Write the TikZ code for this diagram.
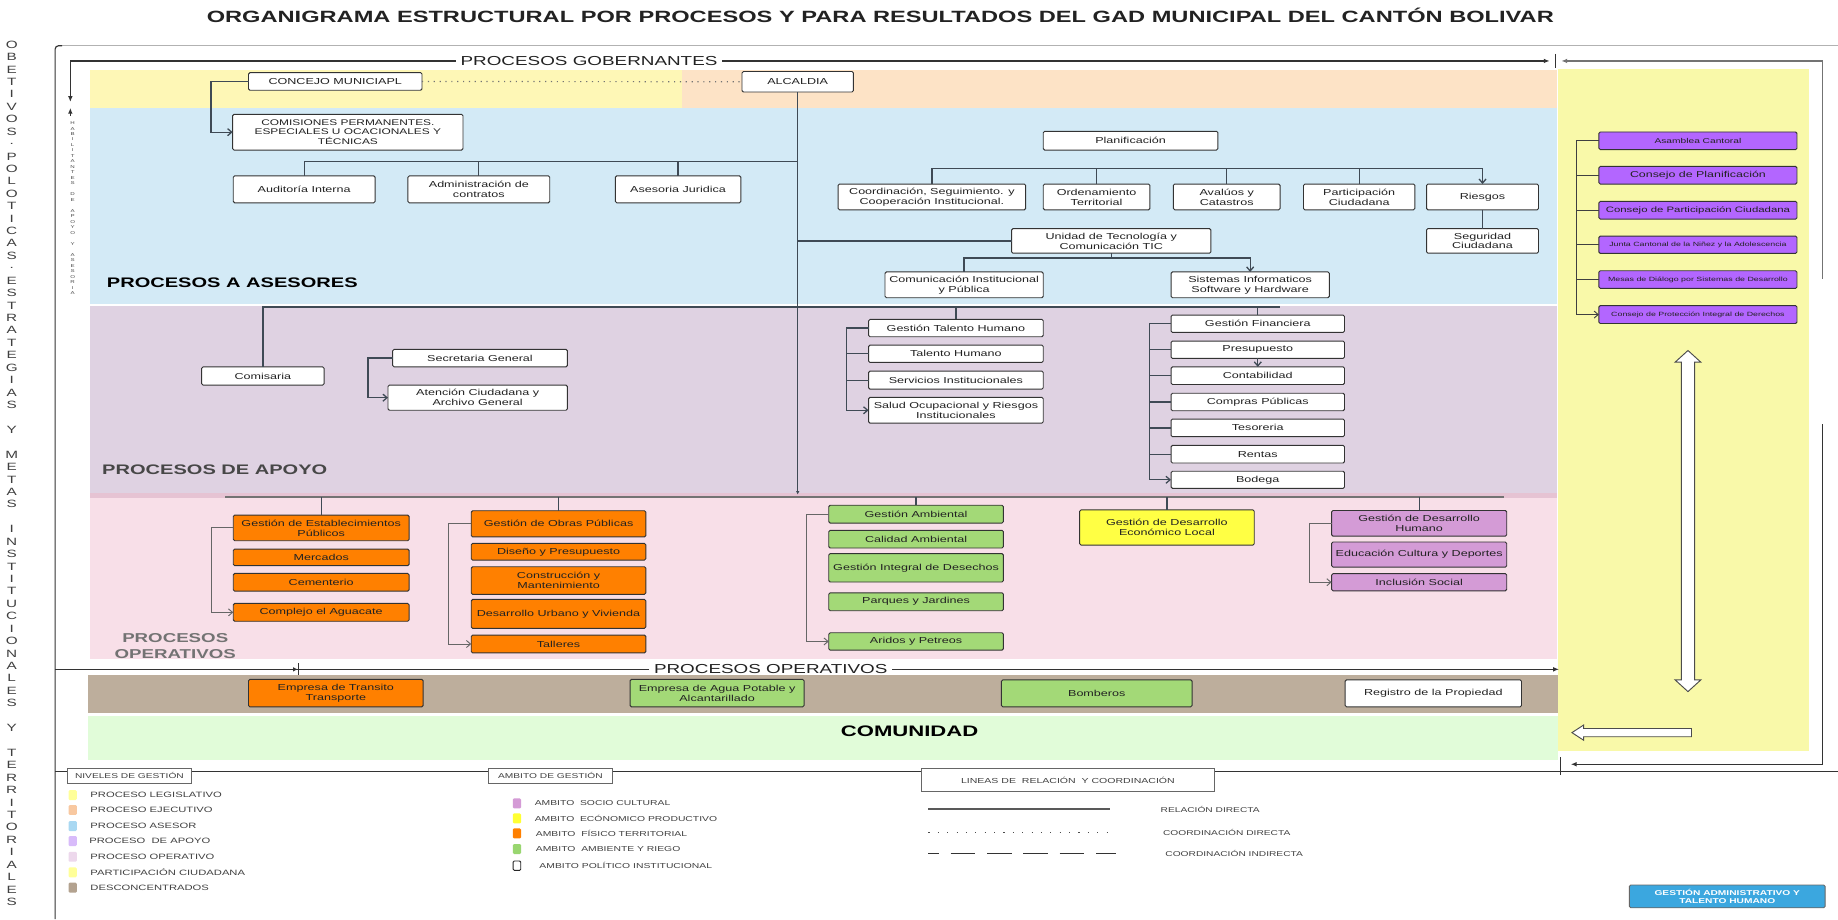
\documentclass[tikz,border=0pt]{standalone}
\usepackage{fontspec}
\setmainfont{Liberation Sans}[FakeStretch=1.45]
\usetikzlibrary{arrows.meta}
\definecolor{bgYel}{HTML}{FEF7B6}
\definecolor{bgPeach}{HTML}{FDE3C6}
\definecolor{bgBlue}{HTML}{D3EAF6}
\definecolor{bgLilac}{HTML}{DFD2E2}
\definecolor{bgPink}{HTML}{F8DFE8}
\definecolor{bgPinkLine}{HTML}{E6C3D3}
\definecolor{bgBrown}{HTML}{BDAE9C}
\definecolor{bgGreen}{HTML}{E1FCD9}
\definecolor{bgRight}{HTML}{F9F9A9}
\definecolor{cOrange}{HTML}{FF8000}
\definecolor{cGreen}{HTML}{A3D977}
\definecolor{cYellow}{HTML}{FFFF44}
\definecolor{cOrchid}{HTML}{D49BD6}
\definecolor{cPurple}{HTML}{B366FF}
\definecolor{cBlue}{HTML}{3BA7DF}
\definecolor{lineC}{HTML}{3F4A55}
\definecolor{txtC}{HTML}{222222}
\definecolor{lgYel}{HTML}{FFFF99}
\definecolor{lgPeach}{HTML}{F8C8A0}
\definecolor{lgBlue}{HTML}{A9D8F2}
\definecolor{lgLav}{HTML}{D8BBFA}
\definecolor{lgPink}{HTML}{EDD8EC}
\definecolor{lgBrown}{HTML}{B3A28F}
\definecolor{lgYel2}{HTML}{FFFF33}
\definecolor{lgGreen}{HTML}{99D670}

\newcommand\obox[7]{\node[#6, minimum width={#4-#2}, minimum height={#5-#3}] (#1) at ({(#2+#4)/2},{(#3+#5)/2}) {#7};}

\tikzset{
 wb/.style={draw=black!80, fill=white, rounded corners=1.2pt, line width=0.8pt, inner sep=0.5pt, outer sep=0pt, align=center, text=txtC, font=\fontsize{7.4}{8.5}\selectfont},
 ob/.style={wb, fill=cOrange},
 gb/.style={wb, fill=cGreen},
 yb/.style={wb, fill=cYellow},
 pb/.style={wb, fill=cOrchid},
 vb/.style={wb, fill=cPurple},
 conn/.style={draw=lineC, line width=1.1pt},
 arr/.style={-{Straight Barb[length=3.5pt,width=6pt]}},
 frm/.style={draw=black!80, line width=1pt},
 fra/.style={-{Latex[length=5pt,width=4pt]}},
 sect/.style={font=\fontsize{11.1}{12}\selectfont, inner sep=4pt, text=txtC},
 bigarrow/.style={fill=white, draw=black!70, line width=0.8pt},
 lgh/.style={draw=black!60, fill=white, line width=0.7pt, inner sep=0pt, outer sep=0pt, font=\fontsize{6}{7}\selectfont, text=black!75},
 lsq/.style={minimum width=7, minimum height=8.5, inner sep=0pt, rounded corners=1pt},
 legt/.style={font=\fontsize{6.6}{7}\selectfont, text=black!75, inner sep=0pt},
 legb/.style={font=\fontsize{6.1}{7}\selectfont, text=black!75, inner sep=0pt},
}

\begin{document}
\begin{tikzpicture}[x=1pt,y=-1pt]
\useasboundingbox (0,0) rectangle (1568,784);
\fill[white] (0,0) rectangle (1568,784);

% ---------- backgrounds ----------
\fill[bgYel] (77,60) rectangle (582,92.5);
\fill[bgPeach] (582,60) rectangle (1328,92.5);
\fill[bgBlue] (77,92.5) rectangle (1328,259);
\fill[bgLilac] (77,261) rectangle (1328,421);
\fill[bgPinkLine] (77,421) rectangle (1328,424.5);
\fill[bgPink] (77,424.5) rectangle (1328,562.5);
\fill[bgBrown] (75,576) rectangle (1329,608.6);
\fill[bgGreen] (75,610.5) rectangle (1329,648.4);
\fill[bgRight] (1329,59) rectangle (1543,641);

% ---------- title ----------
\node[font=\bfseries\fontsize{13.9}{15}\selectfont, text=txtC] (title) at (751,13.5) {ORGANIGRAMA ESTRUCTURAL POR PROCESOS Y PARA RESULTADOS DEL GAD MUNICIPAL DEL CANTÓN BOLIVAR};

% ---------- left vertical texts ----------
\foreach \c [count=\i] in {O,B,E,T,I,V,O,S,.,P,O,L,O,T,I,C,A,S,.,E,S,T,R,A,T,E,G,I,A,S,{},Y,{},M,E,T,A,S,{},I,N,S,T,I,T,U,C,I,O,N,A,L,E,S,{},Y,{},T,E,R,R,I,T,O,R,I,A,L,E,S}
  \node[font=\fontsize{9}{9}\selectfont, text=black!75, inner sep=0pt] (vt\i) at (10,{38+(\i-1)*10.6}) {\c};
\foreach \c [count=\i] in {H,A,B,I,L,I,T,A,N,T,E,S,{},D,E,{},A,P,O,Y,O,{},Y,{},A,S,E,S,O,R,I,A}
  \node[font=\fontsize{3.6}{4}\selectfont, text=black!70, inner sep=0pt] (hv\i) at (62,{105+(\i-1)*4.68}) {\c};

% ---------- frame ----------
\draw[black!30, line width=0.8pt] (50,39) -- (1568,39);
\draw[frm, rounded corners=3pt] (47,784) -- (47,39) -- (53,39);

\node[sect] (gob) at (502.5,52) {PROCESOS GOBERNANTES};
\coordinate (gobL) at (60,87);
\coordinate (gobR) at (1322,52);
\draw[frm, fra] (gob.west) -| (gobL);
\draw[frm, fra] (gob.east) -- (gobR);
\coordinate (tk1) at (1327,46); \coordinate (tk2) at (1327,58);
\draw[frm] (tk1) -- (tk2);
\coordinate (rtA) at (1555,238); \coordinate (rtArr) at (1332,52);
\draw[frm, fra, draw=black!55] (rtA) |- (rtArr);
\coordinate (upS) at (60,99); \coordinate (upE) at (60,92);
\draw[frm, fra] (upS) -- (upE);

\node[sect] (opt) at (657.5,571) {PROCESOS OPERATIVOS};
\coordinate (opL) at (47,571); \coordinate (opR) at (1330,571);
\draw[frm] (opt.west) -- (opL);
\draw[frm, fra] (opt.east) -- (opR);
\coordinate (mk1) at (255,566); \coordinate (mk2) at (255,576);
\coordinate (mk3) at (246,571); \coordinate (mk4) at (254,571);
\draw[frm] (mk1) -- (mk2);
\draw[frm, -{Latex[length=4pt,width=4pt]}] (mk3) -- (mk4);

\coordinate (rtB) at (1555,362); \coordinate (rtB2) at (1340,652);
\draw[frm, fra] (rtB) |- (rtB2);
\coordinate (tk3) at (1331,646); \coordinate (tk4) at (1331,661);
\draw[frm] (tk3) -- (tk4);
\coordinate (botL) at (47,658); \coordinate (botR) at (1568,658);
\draw[frm] (botL) -- (botR);

% ---------- section labels ----------
\node[font=\bfseries\fontsize{11.8}{13}\selectfont, text=black, anchor=west, inner sep=0pt] (lasesor) at (91,241) {PROCESOS A ASESORES};
\node[font=\bfseries\fontsize{11.8}{13}\selectfont, text=black!72, anchor=west, inner sep=0pt] (lapoyo) at (87,401) {PROCESOS DE APOYO};
\node[font=\bfseries\fontsize{11}{13.6}\selectfont, text=black!55, align=center, inner sep=0pt] (loper) at (149.5,551) {PROCESOS\\OPERATIVOS};
\node[font=\bfseries\fontsize{13}{14}\selectfont, text=black, inner sep=0pt] (lcom) at (776,624) {COMUNIDAD};

% ---------- helper coordinates ----------
\coordinate (trEnd) at (680.5,422);
\coordinate (busA) at (680.5,138);
\coordinate (busP) at (1264.75,143.6);
\coordinate (busAp) at (1092,262);
\coordinate (busOpL) at (192,424);
\coordinate (busOp) at (1283,424);
\coordinate (xTH) at (722,300);
\coordinate (xF) at (980.6,300);
\coordinate (xGE) at (180,480);
\coordinate (xGO) at (382.8,480);
\coordinate (xGA) at (688,480);
\coordinate (xGH) at (1117,480);
\coordinate (xRP) at (1345,200);

% ---------- boxes: top ----------
\obox{concejo}{212}{62}{360}{77}{wb}{CONCEJO MUNICIAPL}
\obox{alcaldia}{633}{61}{728}{78.5}{wb}{ALCALDIA}
\obox{comis}{198.5}{97.5}{395}{128}{wb, font=\fontsize{7}{8.4}\selectfont}{COMISIONES PERMANENTES.\\ESPECIALES U OCACIONALES Y\\TÉCNICAS}
\obox{audit}{199}{150}{320}{173}{wb}{Auditoría Interna}
\obox{admin}{348}{150}{469}{173}{wb}{Administración de\\contratos}
\obox{asesor}{525}{150}{632}{173}{wb}{Asesoria Juridica}
\obox{planif}{890}{112}{1039}{128}{wb}{Planificación}
\obox{coord}{715}{157}{875}{179}{wb}{Coordinación, Seguimiento. y\\Cooperación Institucional.}
\obox{orden}{890}{157}{981}{179}{wb}{Ordenamiento\\Territorial}
\obox{aval}{1001}{157}{1092}{179}{wb}{Avalúos y\\Catastros}
\obox{partic}{1112}{157}{1207}{179}{wb}{Participación\\Ciudadana}
\obox{riesgos}{1217}{157}{1312.5}{179}{wb}{Riesgos}
\obox{segur}{1217}{195}{1312.5}{216}{wb}{Seguridad\\Ciudadana}
\obox{unidad}{863}{195}{1033}{216}{wb}{Unidad de Tecnología y\\Comunicación TIC}
\obox{comun}{755}{232}{890}{254}{wb}{Comunicación Institucional\\y Pública}
\obox{sistem}{999}{232}{1134}{254}{wb}{Sistemas Informaticos\\Software y Hardware}

% ---------- boxes: apoyo ----------
\obox{comisaria}{172}{313}{276.5}{328.5}{wb}{Comisaria}
\obox{secre}{335}{298}{484}{313}{wb}{Secretaria General}
\obox{atenc}{331}{328.5}{484}{350}{wb}{Atención Ciudadana y\\Archivo General}
\obox{gth}{741}{272.5}{890}{287.3}{wb}{Gestión Talento Humano}
\obox{th}{741}{294.4}{890}{309.2}{wb}{Talento Humano}
\obox{serv}{741}{316.6}{890}{332}{wb}{Servicios Institucionales}
\obox{salud}{741}{339}{890}{361}{wb}{Salud Ocupacional y Riesgos\\Institucionales}
\obox{gfin}{999}{268.8}{1147}{283.6}{wb}{Gestión Financiera}
\obox{presu}{999}{291}{1147}{305.8}{wb}{Presupuesto}
\obox{conta}{999}{313}{1147}{328}{wb}{Contabilidad}
\obox{compr}{999}{335.5}{1147}{350.4}{wb}{Compras Públicas}
\obox{teso}{999}{357.5}{1147}{372.5}{wb}{Tesoreria}
\obox{rentas}{999}{380}{1147}{395}{wb}{Rentas}
\obox{bodega}{999}{402}{1147}{416.6}{wb}{Bodega}

% ---------- boxes: operativos ----------
\obox{gep}{199}{439.4}{349}{461.3}{ob}{Gestión de Establecimientos\\Públicos}
\obox{merc}{199}{468.4}{349}{482.6}{ob}{Mercados}
\obox{cem}{199}{489.2}{349}{504.3}{ob}{Cementerio}
\obox{compl}{199}{514.8}{349}{530}{ob}{Complejo el Aguacate}
\obox{gop}{402}{435.7}{551}{458}{ob}{Gestión de Obras Públicas}
\obox{dis}{402}{463.6}{551}{477.8}{ob}{Diseño y Presupuesto}
\obox{cons}{402}{483.5}{551}{507}{ob}{Construcción y\\Mantenimiento}
\obox{desu}{402}{511.4}{551}{536}{ob}{Desarrollo Urbano y Vivienda}
\obox{tall}{402}{541.8}{551}{557}{ob}{Talleres}
\obox{gam}{707}{431}{856}{446.2}{gb}{Gestión Ambiental}
\obox{cal}{707}{452.4}{856}{467.5}{gb}{Calidad Ambiental}
\obox{gid}{707}{472.3}{856}{496.5}{gb}{Gestión Integral de Desechos}
\obox{parq}{707}{505.7}{856}{521}{gb}{Parques y Jardines}
\obox{arid}{707}{539.8}{856}{554.6}{gb}{Aridos y Petreos}
\obox{gdel}{921}{435}{1070}{465}{yb}{Gestión de Desarrollo\\Económico Local}
\obox{gdh}{1136}{435.5}{1285.4}{457.4}{pb}{Gestión de Desarrollo\\Humano}
\obox{edu}{1136}{462.4}{1285.4}{483.8}{pb}{Educación Cultura y Deportes}
\obox{incl}{1136}{489.4}{1285.4}{504}{pb}{Inclusión Social}

% ---------- desconcentrados ----------
\obox{emt}{212}{579.6}{361}{603}{ob}{Empresa de Transito\\Transporte}
\obox{ema}{537.5}{579.6}{686}{603}{gb}{Empresa de Agua Potable y\\Alcantarillado}
\obox{bomb}{854.3}{580}{1017}{603}{gb}{Bomberos}
\obox{regp}{1147.5}{580}{1298}{603}{wb}{Registro de la Propiedad}

% ---------- right panel ----------
\obox{asam}{1364}{112.6}{1533}{127.6}{vb, font=\fontsize{6}{7}\selectfont}{Asamblea Cantoral}
\obox{cplan}{1364}{142}{1533}{157}{vb, font=\fontsize{7.3}{8}\selectfont}{Consejo de Planificación}
\obox{cpc}{1364}{171.8}{1533}{186.9}{vb, font=\fontsize{6.7}{7}\selectfont}{Consejo de Participación Ciudadana}
\obox{junta}{1364}{201.4}{1533}{216.2}{vb, font=\fontsize{5.2}{6}\selectfont}{Junta Cantonal de la Niñez y la Adolescencia}
\obox{mesas}{1364}{231}{1533}{246}{vb, font=\fontsize{5.2}{6}\selectfont}{Mesas de Diálogo por Sistemas de Desarrollo}
\obox{cpid}{1364}{260.7}{1533}{276}{vb, font=\fontsize{5.2}{6}\selectfont}{Consejo de Protección Integral de Derechos}

% ---------- connectors ----------
\draw[conn, arr] (concejo.west) -- ++(-32,0) |- (comis.west);
\draw[draw=black!55, line width=1pt, dash pattern=on 1pt off 4pt] (concejo.east) -- (alcaldia.west);
\draw[conn, -{Latex[length=3pt,width=3pt]}] (alcaldia.south) -- (trEnd);
\draw[conn] (audit.north) |- (busA);
\draw[conn] (admin.north) -- (admin.north |- busA);
\draw[conn] (asesor.north) -- (asesor.north |- busA);
\draw[conn] (coord.north) |- (busP);
\draw[conn, arr] (busP) -- (riesgos.north);
\draw[conn] (orden.north) -- (orden.north |- busP);
\draw[conn] (aval.north) -- (aval.north |- busP);
\draw[conn] (partic.north) -- (partic.north |- busP);
\draw[conn] (riesgos.south) -- (segur.north);
\draw[conn] (unidad.west) -- (unidad.west -| alcaldia.south);
\draw[conn] (unidad.south) -- ++(0,4) coordinate (bu);
\draw[conn] (bu) -| (comun.north);
\draw[conn, arr] (bu) -| (sistem.north);
\draw[conn] (comisaria.north) |- (busAp);
\draw[conn] (gth.north) -- (gth.north |- busAp);
\draw[conn] (gfin.north) -- (gfin.north |- busAp);
\draw[conn, arr] (secre.west) -- ++(-21,0) |- (atenc.west);
\draw[conn, arr] (gth.west) -- (gth.west -| xTH) |- (salud.west);
\draw[conn] (th.west) -- (th.west -| xTH);
\draw[conn] (serv.west) -- (serv.west -| xTH);
\draw[conn, arr] (gfin.west) -- (gfin.west -| xF) |- (bodega.west);
\draw[conn] (presu.west) -- (presu.west -| xF);
\draw[conn] (conta.west) -- (conta.west -| xF);
\draw[conn] (compr.west) -- (compr.west -| xF);
\draw[conn] (teso.west) -- (teso.west -| xF);
\draw[conn] (rentas.west) -- (rentas.west -| xF);
\draw[conn, arr] (presu.south) -- (conta.north);
\draw[conn, draw=black!55] (busOpL) -- (busOp);
\draw[conn] (gep.north) -- (gep.north |- busOp);
\draw[conn] (gop.north) -- (gop.north |- busOp);
\draw[conn] (gam.north) -- (gam.north |- busOp);
\draw[conn] (gdel.north) -- (gdel.north |- busOp);
\draw[conn] (gdh.north) -- (gdh.north |- busOp);
\draw[conn, arr, line width=0.8pt, draw=black!60] (gep.west) -- (gep.west -| xGE) |- (compl.west);
\draw[conn, arr, line width=0.8pt, draw=black!60] (gop.west) -- (gop.west -| xGO) |- (tall.west);
\draw[conn, arr, line width=0.8pt, draw=black!60] (gam.west) -- (gam.west -| xGA) |- (arid.west);
\draw[conn, arr, line width=0.8pt, draw=black!60] (gdh.west) -- (gdh.west -| xGH) |- (incl.west);
\draw[conn, arr, line width=0.8pt, draw=black!75] (asam.west) -- (asam.west -| xRP) |- (cpid.west);
\draw[conn, line width=0.8pt, draw=black!75] (cplan.west) -- (cplan.west -| xRP);
\draw[conn, line width=0.8pt, draw=black!75] (cpc.west) -- (cpc.west -| xRP);
\draw[conn, line width=0.8pt, draw=black!75] (junta.west) -- (junta.west -| xRP);
\draw[conn, line width=0.8pt, draw=black!75] (mesas.west) -- (mesas.west -| xRP);

% ---------- big arrows ----------
\draw[bigarrow] (1440,299) -- (1451,309) -- (1445.7,309) -- (1445.7,580) -- (1451,580) -- (1440,590) -- (1429,580) -- (1434.3,580) -- (1434.3,309) -- (1429,309) -- cycle;
\draw[bigarrow] (1341,625) -- (1351,618.5) -- (1351,621.5) -- (1443,621.5) -- (1443,628.5) -- (1351,628.5) -- (1351,631.5) -- cycle;

% ---------- legend ----------
\obox{nivel}{57.5}{655.5}{163.3}{668.3}{lgh}{NIVELES DE GESTIÓN}
\obox{ambit}{416.7}{655.5}{522.5}{668.3}{lgh}{AMBITO DE GESTIÓN}
\obox{lineas}{786}{655.5}{1036}{675.4}{lgh, font=\fontsize{6.2}{7}\selectfont}{LINEAS DE \ RELACIÓN \ Y COORDINACIÓN}

\node[lsq, fill=lgYel] (s1) at (62,678.3) {};
\node[lsq, fill=lgPeach] (s2) at (62,691) {};
\node[lsq, fill=lgBlue] (s3) at (62,704.7) {};
\node[lsq, fill=lgLav] (s4) at (62,717.5) {};
\node[lsq, fill=lgPink] (s5) at (62,730.9) {};
\node[lsq, fill=lgYel] (s6) at (62,744.2) {};
\node[lsq, fill=lgBrown] (s7) at (62,757.3) {};
\node[legt, anchor=west] (t1) at (77,678.3) {PROCESO LEGISLATIVO};
\node[legt, anchor=west] (t2) at (77,691) {PROCESO EJECUTIVO};
\node[legt, anchor=west] (t3) at (77,704.7) {PROCESO ASESOR};
\node[legt, anchor=west] (t4) at (76,717.5) {PROCESO \ DE APOYO};
\node[legt, anchor=west] (t5) at (77,730.9) {PROCESO OPERATIVO};
\node[legt, anchor=west] (t6) at (77,744.2) {PARTICIPACIÓN CIUDADANA};
\node[legt, anchor=west] (t7) at (77,757.3) {DESCONCENTRADOS};

\node[lsq, fill=cOrchid] (a1) at (441,685.4) {};
\node[lsq, fill=lgYel2] (a2) at (441,698.2) {};
\node[lsq, fill=cOrange] (a3) at (441,711) {};
\node[lsq, fill=lgGreen] (a4) at (441,724.3) {};
\node[lsq, fill=white, draw=black!85, line width=0.8pt, minimum width=6.5, minimum height=8] (a5) at (441,738.5) {};
\node[legb, anchor=west] (b1) at (456,685.4) {AMBITO \ SOCIO CULTURAL};
\node[legb, anchor=west] (b2) at (456,698.2) {AMBITO \ ECÓNOMICO PRODUCTIVO};
\node[legb, anchor=west] (b3) at (457,711) {AMBITO \ FÍSICO TERRITORIAL};
\node[legb, anchor=west] (b4) at (457,724.3) {AMBITO \ AMBIENTE Y RIEGO};
\node[legb, anchor=west] (b5) at (460,738) {AMBITO POLÍTICO INSTITUCIONAL};

\coordinate (ls1) at (792,690.5); \coordinate (ls2) at (947,690.5);
\coordinate (ld1) at (792,710.4); \coordinate (ld2) at (952,710.4);
\coordinate (lx1) at (792,728); \coordinate (lx2) at (952,728);
\draw[line width=1.8pt, draw=black!65] (ls1) -- (ls2);
\draw[line width=1pt, draw=black!70, dash pattern=on 1pt off 7pt] (ld1) -- (ld2);
\draw[line width=1.2pt, draw=black!80, dash pattern=on 21pt off 10pt, dash phase=12pt] (lx1) -- (lx2);
\node[legb, anchor=west, font=\fontsize{6}{7}\selectfont] (r1) at (990,690.5) {RELACIÓN DIRECTA};
\node[legb, anchor=west, font=\fontsize{6}{7}\selectfont] (r2) at (992,710.4) {COORDINACIÓN DIRECTA};
\node[legb, anchor=west, font=\fontsize{6}{7}\selectfont] (r3) at (994,728) {COORDINACIÓN INDIRECTA};

\obox{gath}{1390}{755}{1557}{774.4}{wb, fill=cBlue, draw=black!60, text=white, font=\bfseries\fontsize{6}{7}\selectfont}{GESTIÓN ADMINISTRATIVO Y\\TALENTO HUMANO}
\end{tikzpicture}
\end{document}
